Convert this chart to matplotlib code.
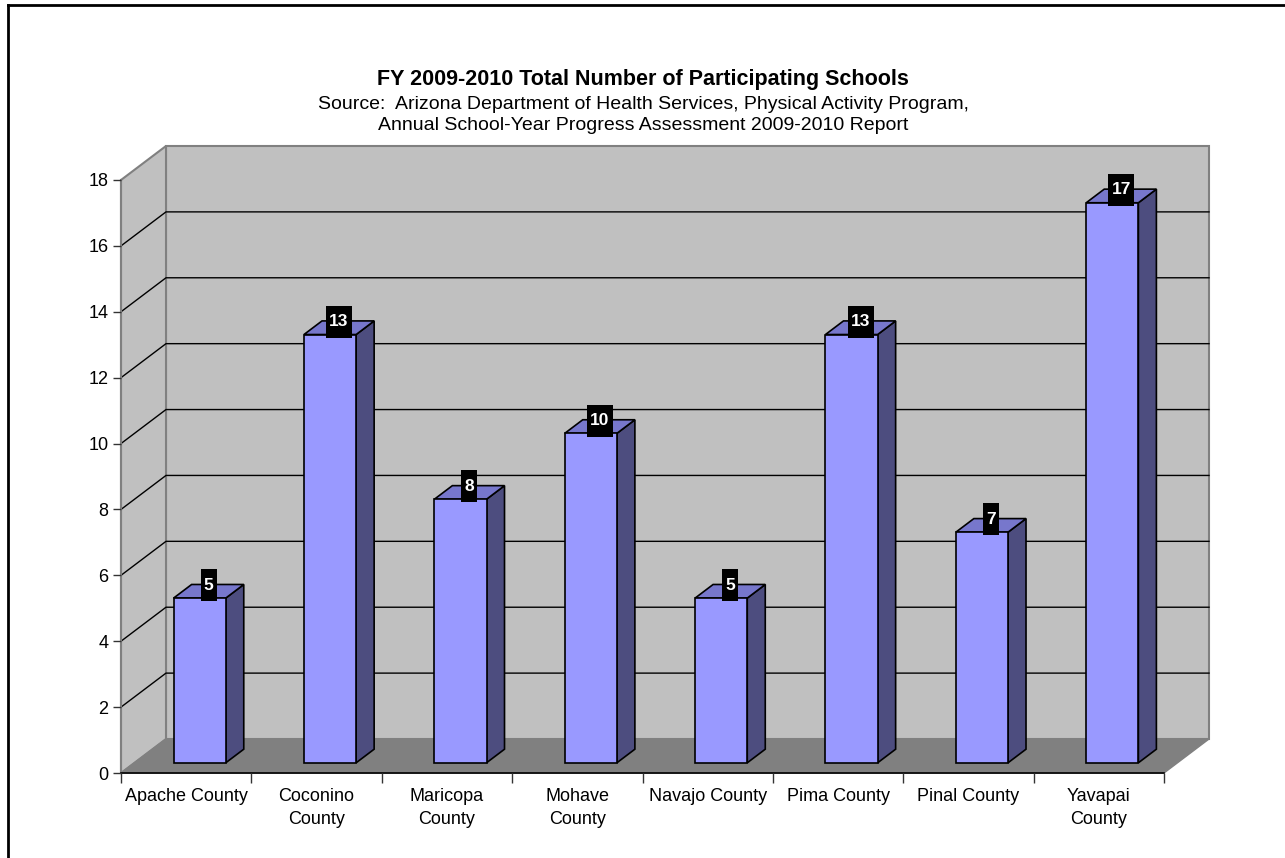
import matplotlib
matplotlib.use("Agg")
import matplotlib.pyplot as plt
from matplotlib.patches import Polygon, Rectangle
from matplotlib.lines import Line2D
import matplotlib.transforms as mtransforms

plt.rcParams['font.family'] = ['Liberation Sans', 'DejaVu Sans']

counties = ['Apache County', 'Coconino\nCounty', 'Maricopa\nCounty', 'Mohave\nCounty',
            'Navajo County', 'Pima County', 'Pinal County', 'Yavapai\nCounty']
schools = [5, 13, 8, 10, 5, 13, 7, 17]
yticks = [0, 2, 4, 6, 8, 10, 12, 14, 16, 18]

title = 'FY 2009-2010 Total Number of Participating Schools'
subtitle = ('Source:  Arizona Department of Health Services, Physical Activity Program,\n'
            'Annual School-Year Progress Assessment 2009-2010 Report')

W, H = 1285, 858
fig = plt.figure(figsize=(W / 100, H / 100), dpi=100)

# front plane of the 3d box, in pixels
x0, x1, y0, y1 = 121, 1164, 773, 180
ax = fig.add_axes([x0 / W, 1 - y0 / H, (x1 - x0) / W, (y0 - y1) / H])
n = len(counties)
ymax = 18
ax.set_xlim(0, n)
ax.set_ylim(0, ymax)
ax.patch.set_visible(False)

# depth of the box in data units
DX = 45 / ((x1 - x0) / n)
DY = 34 / ((y0 - y1) / ymax)

wall = '#C0C0C0'
floor = '#808080'
edge = '#808080'

# walls and floor
ax.add_patch(Polygon([(DX, DY), (n + DX, DY), (n + DX, ymax + DY), (DX, ymax + DY)],
                     closed=True, fc=wall, ec=edge, lw=1.5, clip_on=False, zorder=0))
ax.add_patch(Polygon([(0, 0), (DX, DY), (DX, ymax + DY), (0, ymax)],
                     closed=True, fc=wall, ec=edge, lw=1.5, clip_on=False, zorder=0))
ax.add_patch(Polygon([(0, 0), (n, 0), (n + DX, DY), (DX, DY)],
                     closed=True, fc=floor, ec=edge, lw=1, clip_on=False, zorder=0.5))

# gridlines
for v in yticks[1:-1]:
    ax.plot([0, DX, n + DX], [v, v + DY, v + DY], color='black', lw=1, clip_on=False, zorder=0.3)

# bars
bw = 0.4
f0, f1 = 0.3, 0.7
front_c = '#9999FF'
side_c = '#4D4D7F'
top_c = '#7777CC'
for i, v in enumerate(schools):
    c = i + 0.5 + f0 * DX
    xl, xr = c - bw / 2, c + bw / 2
    yb = f0 * DY
    yt = v + f0 * DY
    ddx, ddy = (f1 - f0) * DX, (f1 - f0) * DY
    ax.add_patch(Polygon([(xr, yb), (xr + ddx, yb + ddy), (xr + ddx, yt + ddy), (xr, yt)],
                         closed=True, fc=side_c, ec='black', lw=1.2, clip_on=False, zorder=2))
    ax.add_patch(Polygon([(xl, yt), (xl + ddx, yt + ddy), (xr + ddx, yt + ddy), (xr, yt)],
                         closed=True, fc=top_c, ec='black', lw=1.2, clip_on=False, zorder=2))
    ax.add_patch(Polygon([(xl, yb), (xr, yb), (xr, yt), (xl, yt)],
                         closed=True, fc=front_c, ec='black', lw=1.2, clip_on=False, zorder=2))

    # value label: black box, white bold text
    lx = i + 0.5 + 0.5 * DX
    ly = v + 0.5 * DY
    bwid = 0.16 if v < 10 else 0.26
    trans = fig.dpi_scale_trans + mtransforms.ScaledTranslation(lx, ly, ax.transData)
    ax.add_patch(Rectangle((-bwid / 2, -0.10), bwid, 0.32, transform=trans,
                           fc='black', ec='none', clip_on=False, zorder=3))
    ax.text(0, 0.06, str(v), transform=trans, ha='center', va='center',
            color='white', fontsize=12.5, fontweight='bold', zorder=4)

# axes, ticks
for s in ['top', 'right']:
    ax.spines[s].set_visible(False)
ax.spines['left'].set_color(edge)
ax.spines['left'].set_linewidth(1.5)
ax.spines['bottom'].set_color('black')
ax.spines['bottom'].set_linewidth(1.2)
ax.spines['left'].set_zorder(1)
ax.spines['bottom'].set_zorder(1)

ax.set_yticks(yticks)
ax.tick_params(axis='y', length=6, width=1, color='#333333', pad=3, labelsize=13)
ax.set_xticks(range(n + 1))
ax.set_xticklabels([])
ax.tick_params(axis='x', which='major', length=7.5, width=1, color='#333333')
ax.set_xticks([i + 0.5 for i in range(n)], minor=True)
ax.set_xticklabels(counties, minor=True)
ax.tick_params(axis='x', which='minor', length=0, pad=11, labelsize=13)
for t in ax.get_xticklabels(minor=True):
    t.set_linespacing(1.42)

# titles
fig.text(643 / W, 1 - 80 / H, title, ha='center', va='center', fontsize=15.5, fontweight='bold')
fig.text(643 / W, 1 - 115 / H, subtitle, ha='center', va='center', fontsize=14, linespacing=1.3)

# frame
fig.add_artist(Line2D([8 / W, 8 / W], [0, 1 - 5 / H], color='black', lw=2))
fig.add_artist(Line2D([8 / W, 1], [1 - 5 / H, 1 - 5 / H], color='black', lw=2))

fig.savefig('out.png', dpi=100)
